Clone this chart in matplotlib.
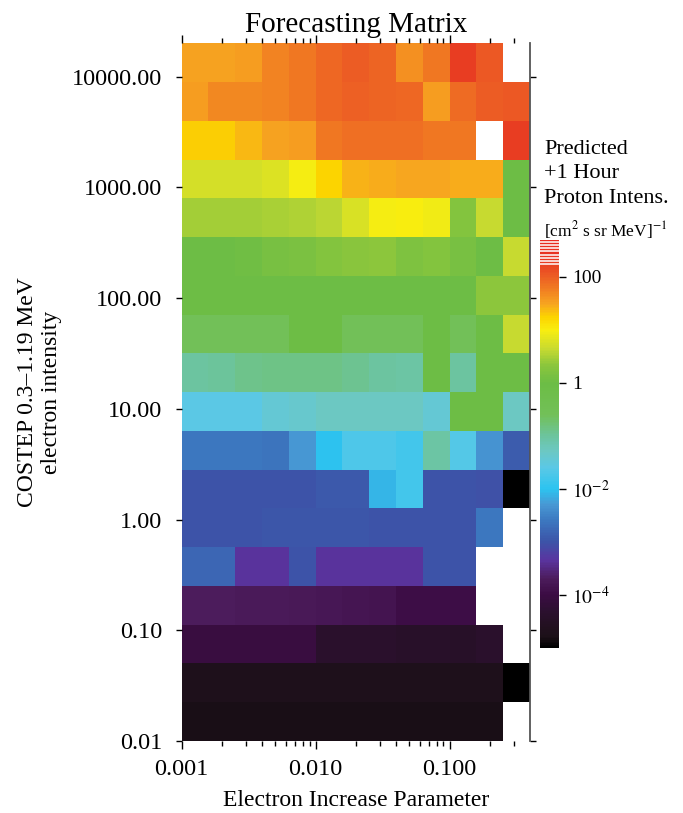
import numpy as np
import matplotlib
matplotlib.use('Agg')
import matplotlib.pyplot as plt
from matplotlib.colors import LinearSegmentedColormap, LogNorm
from matplotlib.ticker import NullLocator, FixedLocator

plt.rcParams['font.family'] = ['Liberation Serif', 'DejaVu Serif']
plt.rcParams['mathtext.fontset'] = 'stix'

# bin edges (log10) of the forecasting matrix
x_edge_exp = [-3.0, -2.8, -2.6, -2.4, -2.2, -2.0, -1.8, -1.6, -1.4, -1.2, -1.0, -0.8, -0.6, -0.4]
y_edge_exp = [4.3, 3.95, 3.6, 3.25, 2.9, 2.55, 2.2, 1.85, 1.5, 1.15, 0.8, 0.45, 0.1,
              -0.25, -0.6, -0.95, -1.3, -1.65, -2.0]

nan = np.nan
# log10 of predicted +1 h proton intensity, rows from top (high electron intensity) down
log_intensity = [
    [1.50, 1.52, 1.55, 1.72, 1.80, 1.92, 2.02, 1.96, 1.62, 1.80, 2.25, 2.05, nan],
    [1.55, 1.68, 1.68, 1.72, 1.80, 1.92, 2.00, 1.96, 1.92, 1.55, 1.90, 2.02, 2.05],
    [1.27, 1.27, 1.40, 1.50, 1.55, 1.80, 1.86, 1.88, 1.88, 1.82, 1.80, nan, 2.25],
    [0.72, 0.72, 0.74, 0.80, 0.97, 1.25, 1.42, 1.46, 1.47, 1.47, 1.46, 1.44, 0.00],
    [0.45, 0.45, 0.47, 0.50, 0.52, 0.57, 0.75, 0.97, 1.00, 0.95, 0.25, 0.65, 0.00],
    [0.00, 0.00, 0.05, 0.12, 0.15, 0.25, 0.30, 0.35, 0.20, 0.25, 0.12, 0.00, 0.65],
    [0.00, 0.00, 0.00, 0.00, 0.00, 0.00, 0.00, 0.00, 0.00, 0.00, 0.00, 0.35, 0.35],
    [-0.6, -0.6, -0.6, -0.6, 0.00, 0.00, -0.6, -0.6, -0.6, 0.00, -0.6, 0.00, 0.65],
    [-1.00, -0.98, -0.90, -0.85, -0.85, -0.85, -0.92, -1.02, -1.05, 0.00, -1.00, 0.00, 0.00],
    [-1.60, -1.60, -1.58, -1.45, -1.38, -1.30, -1.28, -1.28, -1.30, -1.45, 0.00, 0.00, -1.30],
    [-2.60, -2.60, -2.60, -2.65, -2.30, -2.00, -1.70, -1.70, -1.80, -1.05, -1.65, -2.35, -2.90],
    [-3.00, -3.00, -3.00, -3.00, -3.00, -2.95, -2.95, -2.10, -1.80, -3.00, -3.00, -3.02, -5.00],
    [-3.00, -3.00, -3.00, -2.98, -2.98, -2.98, -2.98, -3.00, -3.00, -3.00, -3.00, -2.60, nan],
    [-2.80, -2.80, -3.35, -3.35, -3.00, -3.35, -3.35, -3.35, -3.35, -3.00, -3.00, nan, nan],
    [-3.70, -3.70, -3.72, -3.72, -3.75, -3.78, -3.82, -3.85, -3.95, -3.95, -3.95, nan, nan],
    [-4.05, -4.05, -4.05, -4.05, -4.05, -4.35, -4.35, -4.35, -4.40, -4.40, -4.45, -4.35, nan],
    [-4.70, -4.70, -4.70, -4.70, -4.70, -4.70, -4.70, -4.70, -4.70, -4.70, -4.70, -4.70, -5.00],
    [-4.80, -4.80, -4.80, -4.80, -4.80, -4.80, -4.80, -4.80, -4.80, -4.80, -4.80, -4.80, nan],
]

x_ticks = [0.001, 0.01, 0.1]
x_ticklabels = ['0.001', '0.010', '0.100']
y_ticks = [0.01, 0.1, 1, 10, 100, 1000, 10000]
y_ticklabels = ['0.01', '0.10', '1.00', '10.00', '100.00', '1000.00', '10000.00']
cb_ticks = [1e2, 1, 1e-2, 1e-4]
cb_ticklabels = ['100', '1', '$10^{-2}$', '$10^{-4}$']
cb_min_exp, cb_max_exp = -5.0, 2.7
# white stripes at the saturated top of the colour bar
stripe_exp = [2.66, 2.60, 2.54, 2.48, 2.42, 2.36, 2.30, 2.24]

# colour table, anchors given in log10 intensity
anchors = [
    (-5.0, '#000000'), (-4.8, '#1c1018'), (-4.6, '#221020'), (-4.3, '#2c1030'),
    (-4.0, '#3c0c44'), (-3.7, '#4c1c5c'), (-3.35, '#5a34a0'), (-3.0, '#3c54a8'),
    (-2.6, '#3c78c0'), (-2.3, '#4898d4'), (-2.0, '#2cc4f0'), (-1.6, '#5ac8e6'),
    (-1.3, '#6cc8c4'), (-1.0, '#6cc49e'), (-0.6, '#72c058'), (0.0, '#6cbd45'),
    (0.35, '#8cc63c'), (0.65, '#c8da30'), (1.0, '#f8ee10'), (1.25, '#fcd400'),
    (1.5, '#f7a520'), (1.8, '#f07a22'), (2.05, '#ec5a24'), (2.3, '#e83a22'),
    (2.7, '#e82a20'),
]
span = cb_max_exp - cb_min_exp
cmap = LinearSegmentedColormap.from_list(
    'forecast', [((v - cb_min_exp) / span, c) for v, c in anchors])
norm = LogNorm(vmin=10 ** cb_min_exp, vmax=10 ** cb_max_exp)

x_edges = 10.0 ** np.array(x_edge_exp)
y_edges = 10.0 ** np.array(y_edge_exp)
values = np.ma.masked_invalid(10.0 ** np.array(log_intensity))

fig = plt.figure(figsize=(6.83, 8.13), dpi=100)
ax = fig.add_axes([0.266, 0.0886, 0.51, 0.858])
mesh = ax.pcolormesh(x_edges, y_edges, values, cmap=cmap, norm=norm)
ax.set_xscale('log')
ax.set_yscale('log')
ax.set_xlim(x_edges[0], x_edges[-1])
ax.set_ylim(y_edges[-1], y_edges[0])

ax.set_xticks(x_ticks)
ax.set_xticklabels(x_ticklabels, fontsize=17.5)
ax.set_yticks(y_ticks)
ax.set_yticklabels(y_ticklabels, fontsize=17.5)
ax.yaxis.set_minor_locator(NullLocator())
ax.tick_params(axis='x', which='both', top=True, direction='out', pad=7)
ax.tick_params(axis='x', which='major', length=6, width=1)
ax.tick_params(axis='x', which='minor', length=3.5, width=1)
ax.tick_params(axis='y', which='major', right=True, direction='out', length=4, width=1, pad=10)

for side in ['top', 'left', 'bottom']:
    ax.spines[side].set_visible(False)
ax.spines['right'].set_color('#555555')
ax.spines['right'].set_linewidth(1.3)

ax.set_title('Forecasting Matrix', fontsize=21, pad=8)
ax.set_xlabel('Electron Increase Parameter', fontsize=17, labelpad=7)
ax.set_ylabel('COSTEP 0.3\u20131.19 MeV\nelectron intensity', fontsize=17, labelpad=7)

cax = fig.add_axes([0.7906, 0.203, 0.0283, 0.502])
cb = fig.colorbar(mesh, cax=cax)
cb.outline.set_visible(False)
cax.yaxis.set_major_locator(FixedLocator(cb_ticks))
cax.yaxis.set_minor_locator(NullLocator())
cax.set_yticklabels(cb_ticklabels, fontsize=14)
cax.tick_params(axis='y', direction='out', length=5, width=1, pad=4)
for v in stripe_exp:
    cax.axhline(10 ** v, color='white', lw=1.1)

fig.text(0.7965, 0.828, 'Predicted\n+1 Hour\nProton Intens.', fontsize=16,
         ha='left', va='top', linespacing=1.4)
fig.text(0.7965, 0.709, r'[cm$^{2}$ s sr MeV]$^{-1}$', fontsize=12.5,
         ha='left', va='baseline')

fig.savefig('out.png', dpi=100)
